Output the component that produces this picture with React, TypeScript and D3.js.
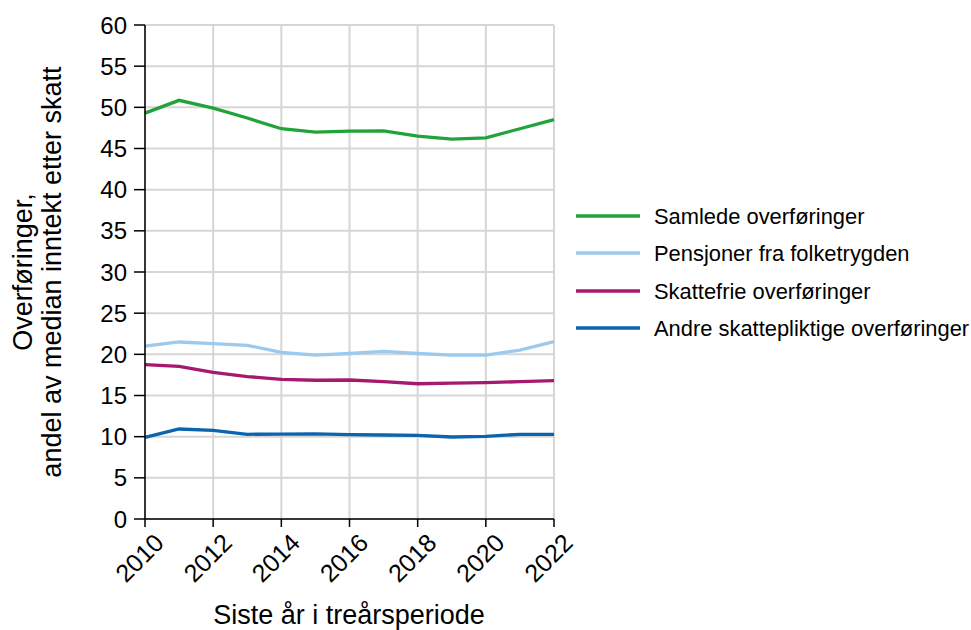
import React from "react";
import * as d3 from "d3";

const years = [2010, 2011, 2012, 2013, 2014, 2015, 2016, 2017, 2018, 2019, 2020, 2021, 2022];
const samlede = [49.3, 50.85, 49.9, 48.7, 47.4, 47.0, 47.1, 47.15, 46.5, 46.15, 46.3, 47.4, 48.5];
const pensjoner = [21.0, 21.5, 21.3, 21.1, 20.25, 19.9, 20.1, 20.35, 20.1, 19.9, 19.9, 20.5, 21.55];
const skattefrie = [18.75, 18.55, 17.8, 17.3, 16.97, 16.85, 16.88, 16.68, 16.43, 16.5, 16.56, 16.68, 16.8];
const andre = [9.92, 10.93, 10.77, 10.29, 10.32, 10.35, 10.24, 10.2, 10.16, 9.96, 10.04, 10.29, 10.29];
const seriesNames = ["Samlede overføringer", "Pensjoner fra folketrygden", "Skattefrie overføringer", "Andre skattepliktige overføringer"];
const seriesColors = ["#22a33a", "#9ccaee", "#a6196e", "#0a64ae"];
const yTicks = [0, 5, 10, 15, 20, 25, 30, 35, 40, 45, 50, 55, 60];
const xTicks = [2010, 2012, 2014, 2016, 2018, 2020, 2022];

export default function App() {
  const W = 971, H = 630;
  const left = 145, right = 554, top = 25, bottom = 519;
  const x = d3.scaleLinear().domain([2010, 2022]).range([left, right]);
  const y = d3.scaleLinear().domain([0, 60]).range([bottom, top]);
  const data = [samlede, pensjoner, skattefrie, andre];
  const line = d3.line<number>().x((_, i) => x(years[i])).y((v) => y(v));
  const font = "Arial, 'Liberation Sans', sans-serif";
  const legendY = [216, 253, 291, 328];
  return (
    <svg width={W} height={H} style={{ position: "absolute", left: 0, top: 0 }} fontFamily={font}>
      <rect x={0} y={0} width={W} height={H} fill="#fff" />
      {yTicks.map((t) => (
        <line key={"gy" + t} x1={left} x2={right} y1={y(t)} y2={y(t)} stroke="#d6d6d6" strokeWidth={2} />
      ))}
      {xTicks.map((t) => (
        <line key={"gx" + t} x1={x(t)} x2={x(t)} y1={top} y2={bottom} stroke="#d6d6d6" strokeWidth={2} />
      ))}
      {data.map((d, i) => (
        <path key={"s" + i} d={line(d) || ""} fill="none" stroke={seriesColors[i]} strokeWidth={3.3} />
      ))}
      <line x1={left} x2={left} y1={top} y2={bottom} stroke="#000" strokeWidth={1.5} />
      <line x1={left} x2={right} y1={bottom} y2={bottom} stroke="#000" strokeWidth={1.5} />
      {yTicks.map((t) => (
        <g key={"ty" + t}>
          <line x1={left - 11} x2={left} y1={y(t)} y2={y(t)} stroke="#000" strokeWidth={1.5} />
          <text x={left - 18} y={y(t)} dy="0.36em" textAnchor="end" fontSize={24} fill="#000">{t}</text>
        </g>
      ))}
      {xTicks.map((t) => (
        <g key={"tx" + t}>
          <line x1={x(t)} x2={x(t)} y1={bottom} y2={bottom + 8} stroke="#000" strokeWidth={1.5} />
          <text transform={`translate(${x(t) + 8},${bottom + 13}) rotate(-45)`} textAnchor="end" dy="0.7em" fontSize={25} fill="#000">{t}</text>
        </g>
      ))}
      <text x={349} y={624} textAnchor="middle" fontSize={27} fill="#000">Siste år i treårsperiode</text>
      <text transform={`translate(32,${272}) rotate(-90)`} textAnchor="middle" fontSize={27} fill="#000">
        <tspan x={0} dy={0}>Overføringer,</tspan>
        <tspan x={0} dy={29}>andel av median inntekt etter skatt</tspan>
      </text>
      {seriesNames.map((n, i) => (
        <g key={"l" + i}>
          <line x1={576} x2={640} y1={legendY[i]} y2={legendY[i]} stroke={seriesColors[i]} strokeWidth={3.3} />
          <text x={654} y={legendY[i]} dy="0.36em" fontSize={21.9} fill="#000">{n}</text>
        </g>
      ))}
    </svg>
  );
}
